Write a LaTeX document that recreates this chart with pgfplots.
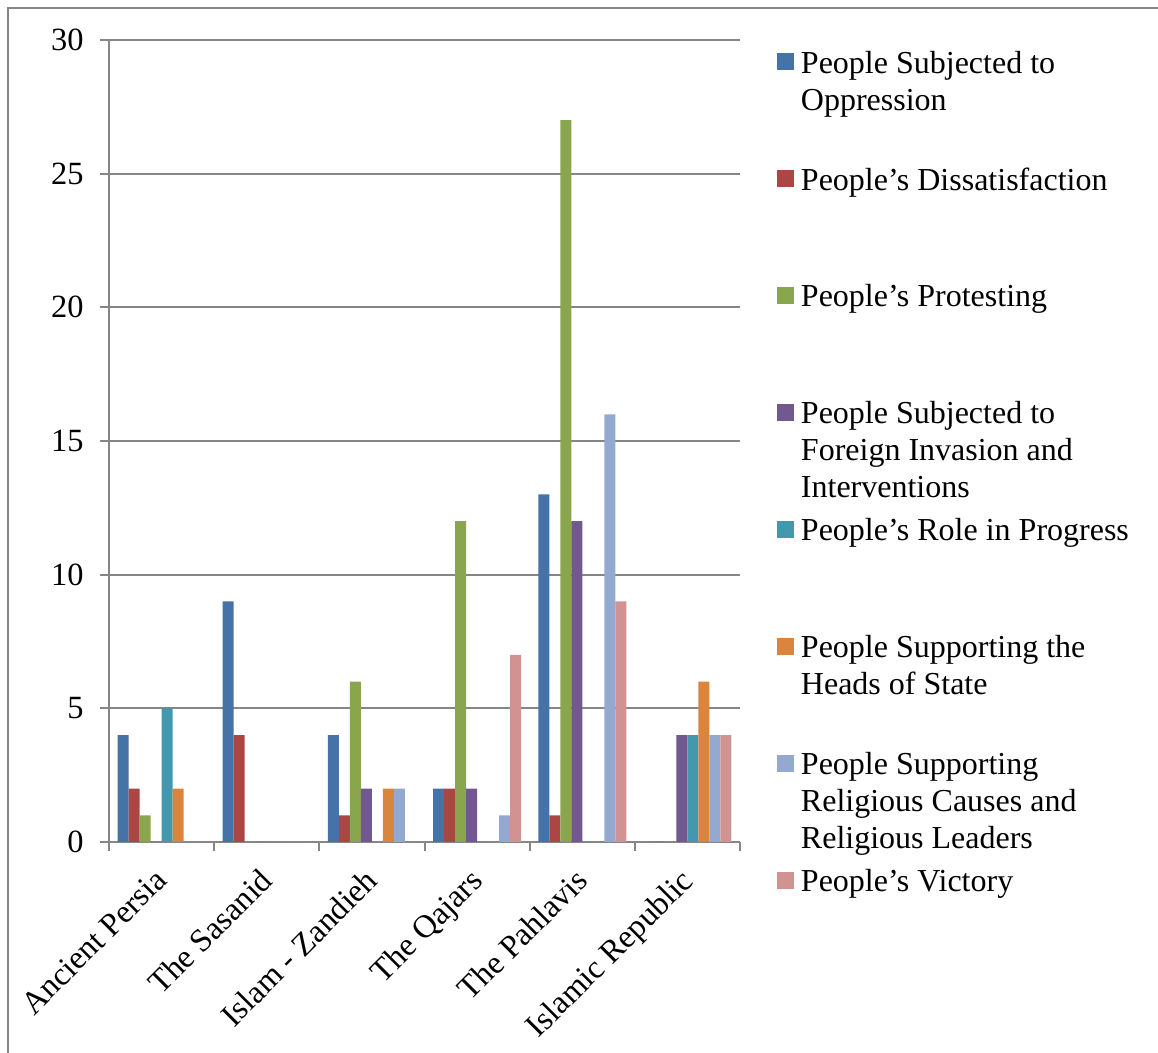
\documentclass[border=0pt]{standalone}
\usepackage{fontspec}
\setmainfont{Liberation Serif}
\usepackage{pgfplots}
\pgfplotsset{compat=1.18}

% series colours
\definecolor{sOne}{HTML}{4572A7}
\definecolor{sTwo}{HTML}{AA4643}
\definecolor{sThree}{HTML}{89A54E}
\definecolor{sFour}{HTML}{71588F}
\definecolor{sFive}{HTML}{4198AF}
\definecolor{sSix}{HTML}{DB843D}
\definecolor{sSeven}{HTML}{93A9CF}
\definecolor{sEight}{HTML}{D19392}
\definecolor{axgray}{HTML}{868686}

% one legend entry: a fixed-height slot standing on its baseline,
% text hung from the top so the marker meets the first line
\newcommand{\lentry}[1]{\parbox[b][58.5pt][t]{172pt}{\strut#1}}

\begin{document}
\begin{tikzpicture}
\begin{axis}[
  at={(0,0)}, anchor=south west,
  scale only axis,
  width=315.5pt, height=401pt,
  xmin=-0.5, xmax=5.5,
  ymin=0, ymax=30,
  ytick={0,5,...,30},
  xtick={0,...,5},
  xticklabels={Ancient Persia, The Sasanid, Islam - Zandieh, The Qajars, The Pahlavis, Islamic Republic},
  minor xtick={-0.5,0.5,...,5.5},
  axis lines=left,
  axis line style={-, draw=axgray, line width=1pt},
  ymajorgrids,
  grid style={draw=axgray, line width=1pt},
  tick style={draw=axgray, line width=1pt},
  major x tick style={draw=none},
  tick align=outside,
  major tick length=4.5pt,
  minor tick length=4.5pt,
  ybar=0pt,
  bar width=5.5pt,
  /pgf/number format/assume math mode=true,
  tick label style={font=\fontsize{16.2}{18}\selectfont},
  yticklabel style={anchor=east, inner sep=0pt, xshift=-8pt},
  xticklabel style={rotate=45, anchor=north east, inner sep=0pt, xshift=-8.5pt, yshift=-2.5pt},
  legend image code/.code={\fill[#1] (0pt,47.05pt) rectangle (8.5pt,55.55pt);},
  legend style={
    at={(axis description cs:1.0586,0.99115)}, anchor=north west,
    draw=none, fill=none, inner sep=0pt, outer sep=0pt,
    row sep=-1.5pt, column sep=3.5pt,
    font=\fontsize{16}{18.5}\selectfont,
    cells={anchor=base west},
    nodes={inner sep=0pt},
  },
]
\addplot[fill=sOne, draw=none]    coordinates {(0,4) (1,9) (2,4) (3,2) (4,13) (5,0)};
\addlegendentry{\lentry{People Subjected to\\Oppression}}
\addplot[fill=sTwo, draw=none]    coordinates {(0,2) (1,4) (2,1) (3,2) (4,1) (5,0)};
\addlegendentry{\lentry{People’s Dissatisfaction}}
\addplot[fill=sThree, draw=none]  coordinates {(0,1) (1,0) (2,6) (3,12) (4,27) (5,0)};
\addlegendentry{\lentry{People’s Protesting}}
\addplot[fill=sFour, draw=none]   coordinates {(0,0) (1,0) (2,2) (3,2) (4,12) (5,4)};
\addlegendentry{\lentry{People Subjected to\\Foreign Invasion and\\Interventions}}
\addplot[fill=sFive, draw=none]   coordinates {(0,5) (1,0) (2,0) (3,0) (4,0) (5,4)};
\addlegendentry{\lentry{People’s Role in Progress}}
\addplot[fill=sSix, draw=none]    coordinates {(0,2) (1,0) (2,2) (3,0) (4,0) (5,6)};
\addlegendentry{\lentry{People Supporting the\\Heads of State}}
\addplot[fill=sSeven, draw=none]  coordinates {(0,0) (1,0) (2,2) (3,1) (4,16) (5,4)};
\addlegendentry{\lentry{People Supporting\\Religious Causes and\\Religious Leaders}}
\addplot[fill=sEight, draw=none]  coordinates {(0,0) (1,0) (2,0) (3,7) (4,9) (5,4)};
\addlegendentry{\lentry{People’s Victory}}
\end{axis}
% outer frame (left and top edges)
\draw[axgray, line width=1pt] (-50.25pt,-105.5pt) -- (-50.25pt,416.75pt) -- (524.5pt,416.75pt);
\pgfresetboundingbox
\path[use as bounding box] (-54.5pt,-105.5pt) rectangle (524.5pt,421pt);
\end{tikzpicture}
\end{document}
